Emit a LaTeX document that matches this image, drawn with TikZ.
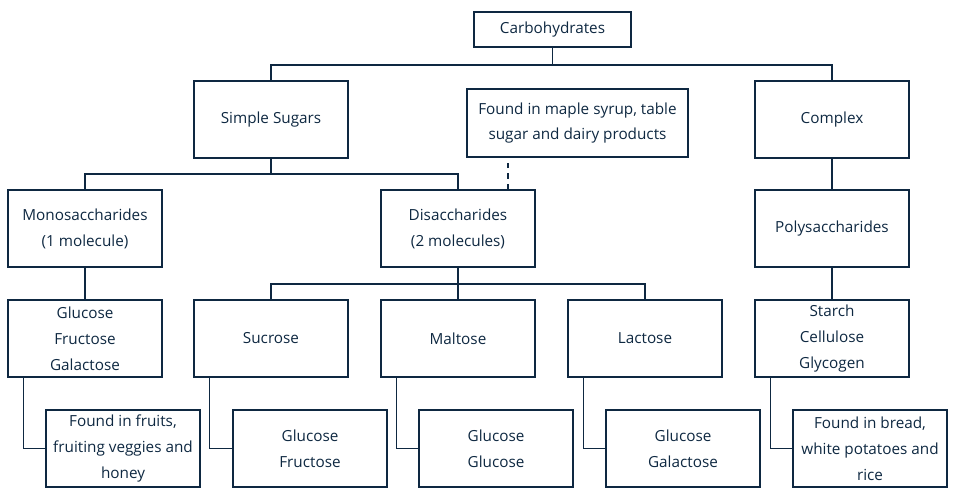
\documentclass[tikz,border=0pt]{standalone}
\usepackage{fontspec}
\setmainfont{Open Sans}
\definecolor{navy}{RGB}{14,40,65}
\tikzset{
  box/.style={draw=navy, text=navy, thick, align=center, inner sep=0pt,
    minimum width=3.08cm, minimum height=1.54cm, font=\fontsize{8.7}{14.7}\selectfont},
  link/.style={navy, thick}
}
\begin{document}
\begin{tikzpicture}[x=0.02cm, y=-0.02cm]
  \useasboundingbox (0,0) rectangle (958,501);
  % top level
  \node[box, minimum width=3.14cm, minimum height=0.7cm] (carb) at (552.5,29.5) {Carbohydrates};
  \node[box] (simple) at (271,119.5) {Simple Sugars};
  \node[box, minimum width=4.42cm, minimum height=1.36cm] (maple) at (577.5,123) {Found in maple syrup, table\\sugar and dairy products};
  \node[box] (complex) at (832,119.5) {Complex};
  % second level
  \node[box] (mono) at (85,228.5) {Monosaccharides\\(1 molecule)};
  \node[box] (di) at (458,228.5) {Disaccharides\\(2 molecules)};
  \node[box] (poly) at (832,228.5) {Polysaccharides};
  % third level
  \node[box] (gfg) at (85,338.5) {Glucose\\Fructose\\Galactose};
  \node[box] (sucrose) at (271,338.5) {Sucrose};
  \node[box] (maltose) at (458,338.5) {Maltose};
  \node[box] (lactose) at (645,338.5) {Lactose};
  \node[box] (starch) at (832,338.5) {Starch\\Cellulose\\Glycogen};
  % bottom level
  \node[box] (fruits) at (123,448.5) {Found in fruits,\\fruiting veggies and\\honey};
  \node[box] (sgf) at (310,448.5) {Glucose\\Fructose};
  \node[box] (mgg) at (496,448.5) {Glucose\\Glucose};
  \node[box] (lgg) at (683,448.5) {Glucose\\Galactose};
  \node[box] (bread) at (870,448.5) {Found in bread,\\white potatoes and\\rice};
  % connectors
  \coordinate (c1) at (552.5,65);
  \draw[link] (carb) -- (c1) -| (simple);
  \draw[link] (c1) -| (complex);
  \coordinate (c2) at (271,174);
  \draw[link] (simple) -- (c2) -| (mono);
  \draw[link] (c2) -| (di);
  \draw[link, dashed] ([xshift=1cm]di.north) -- ([xshift=1cm]di.north |- maple.south);
  \coordinate (c3) at (458,284);
  \draw[link] (di) -- (c3) -| (sucrose);
  \draw[link] (c3) -| (lactose);
  \draw[link] (c3) -- (maltose);
  \draw[link] (complex) -- (poly);
  \draw[link] (poly) -- (starch);
  \draw[link] (mono) -- (gfg);
  \foreach \up/\down in {gfg/fruits, sucrose/sgf, maltose/mgg, lactose/lgg, starch/bread}
    \draw[link] ([xshift=0.32cm]\up.south west) |- (\down.west);
\end{tikzpicture}
\end{document}
